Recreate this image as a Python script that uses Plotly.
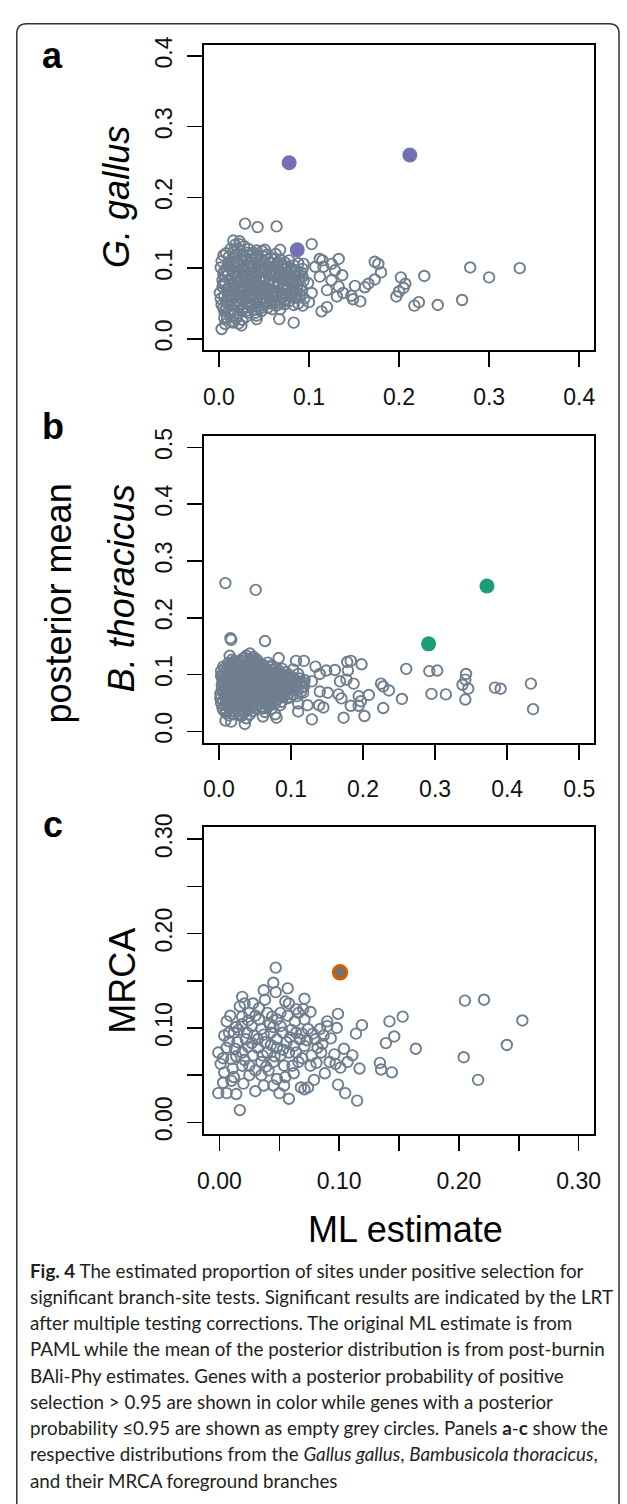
import plotly.graph_objects as go

W, H = 627, 1504

# ---------------- data ----------------
# Panel a: G. gallus  (x = ML estimate, y = posterior mean)
a_grey = [
    (0.002,0.101),(0.004,0.083),(0.001,0.065),(0.003,0.048),(0.005,0.092),(0.002,0.057),(0.004,0.074),(0.006,0.039),(0.003,0.110),
    (0.008,0.121),(0.009,0.096),(0.007,0.079),(0.010,0.061),(0.008,0.043),(0.009,0.030),(0.007,0.088),(0.010,0.105),(0.008,0.052),(0.009,0.070),
    (0.013,0.127),(0.014,0.112),(0.012,0.085),(0.015,0.067),(0.013,0.047),(0.012,0.035),(0.014,0.099),(0.013,0.076),(0.015,0.058),(0.014,0.025),
    (0.018,0.133),(0.019,0.118),(0.017,0.102),(0.020,0.090),(0.018,0.071),(0.019,0.054),(0.017,0.040),(0.020,0.063),(0.018,0.081),(0.019,0.029),(0.017,0.109),
    (0.023,0.138),(0.024,0.124),(0.022,0.097),(0.025,0.084),(0.023,0.066),(0.024,0.050),(0.022,0.036),(0.025,0.112),(0.023,0.075),(0.024,0.058),(0.022,0.022),
    (0.028,0.131),(0.029,0.115),(0.027,0.104),(0.030,0.088),(0.028,0.072),(0.029,0.060),(0.027,0.044),(0.030,0.031),(0.028,0.095),(0.029,0.080),(0.027,0.053),
    (0.033,0.127),(0.034,0.108),(0.032,0.092),(0.035,0.078),(0.033,0.062),(0.034,0.048),(0.032,0.037),(0.035,0.117),(0.033,0.069),(0.034,0.085),(0.032,0.100),
    (0.038,0.122),(0.039,0.101),(0.037,0.086),(0.040,0.070),(0.038,0.056),(0.039,0.041),(0.037,0.113),(0.040,0.093),(0.038,0.064),(0.039,0.079),
    (0.043,0.118),(0.044,0.106),(0.042,0.090),(0.045,0.075),(0.043,0.059),(0.044,0.046),(0.042,0.033),(0.045,0.083),(0.043,0.067),(0.044,0.098),
    (0.048,0.124),(0.049,0.110),(0.047,0.096),(0.050,0.081),(0.048,0.066),(0.049,0.052),(0.047,0.039),(0.050,0.088),(0.048,0.073),(0.049,0.059),
    (0.053,0.119),(0.054,0.103),(0.052,0.087),(0.055,0.071),(0.053,0.057),(0.054,0.044),(0.052,0.094),(0.055,0.079),(0.053,0.064),(0.054,0.112),
    (0.058,0.115),(0.059,0.099),(0.057,0.084),(0.060,0.068),(0.058,0.053),(0.059,0.042),(0.057,0.091),(0.060,0.076),(0.058,0.061),(0.059,0.107),
    (0.063,0.120),(0.064,0.105),(0.062,0.089),(0.065,0.074),(0.063,0.060),(0.064,0.047),(0.062,0.097),(0.065,0.082),(0.063,0.066),
    (0.068,0.112),(0.069,0.095),(0.067,0.080),(0.070,0.065),(0.068,0.051),(0.069,0.101),(0.067,0.087),(0.070,0.072),(0.068,0.058),
    (0.073,0.108),(0.074,0.092),(0.072,0.077),(0.075,0.062),(0.073,0.049),(0.074,0.099),(0.072,0.084),(0.075,0.069),(0.073,0.055),
    (0.078,0.111),(0.079,0.096),(0.077,0.081),(0.080,0.066),(0.078,0.053),(0.079,0.088),(0.077,0.073),(0.080,0.059),
    (0.083,0.104),(0.084,0.089),(0.082,0.074),(0.085,0.060),(0.083,0.048),(0.084,0.094),(0.082,0.079),(0.085,0.067),
    (0.088,0.107),(0.089,0.091),(0.087,0.076),(0.090,0.063),(0.088,0.050),(0.089,0.084),(0.087,0.070),
    (0.093,0.099),(0.094,0.082),(0.092,0.068),(0.095,0.057),(0.093,0.088),
    (0.005,0.118),(0.006,0.096),(0.005,0.078),(0.006,0.061),(0.005,0.044),(0.006,0.030),
    (0.011,0.116),(0.010,0.091),(0.011,0.073),(0.010,0.055),(0.011,0.040),(0.011,0.103),
    (0.016,0.123),(0.015,0.106),(0.016,0.094),(0.016,0.076),(0.015,0.061),(0.016,0.050),(0.016,0.033),
    (0.021,0.128),(0.021,0.107),(0.020,0.094),(0.021,0.079),(0.021,0.062),(0.021,0.045),(0.020,0.031),
    (0.026,0.119),(0.026,0.100),(0.026,0.091),(0.025,0.069),(0.026,0.056),(0.026,0.040),(0.026,0.027),
    (0.031,0.122),(0.031,0.111),(0.031,0.096),(0.030,0.083),(0.031,0.066),(0.031,0.051),(0.031,0.040),
    (0.036,0.120),(0.036,0.104),(0.036,0.089),(0.035,0.073),(0.036,0.059),(0.036,0.045),
    (0.041,0.115),(0.041,0.097),(0.041,0.082),(0.040,0.063),(0.041,0.051),(0.041,0.037),
    (0.046,0.113),(0.046,0.101),(0.046,0.086),(0.045,0.070),(0.046,0.055),(0.046,0.043),
    (0.051,0.116),(0.051,0.099),(0.051,0.084),(0.050,0.068),(0.051,0.049),
    (0.056,0.108),(0.056,0.095),(0.056,0.081),(0.055,0.064),(0.056,0.050),
    (0.061,0.112),(0.061,0.094),(0.061,0.079),(0.060,0.063),(0.061,0.052),
    (0.066,0.107),(0.066,0.091),(0.066,0.077),(0.065,0.061),
    (0.071,0.104),(0.071,0.089),(0.071,0.074),(0.070,0.058),
    (0.076,0.102),(0.076,0.085),(0.076,0.070),(0.075,0.056),
    (0.081,0.099),(0.081,0.083),(0.081,0.064),
    (0.086,0.097),(0.086,0.081),(0.086,0.058),
    (0.091,0.094),(0.091,0.074),
    (0.029,0.163),(0.043,0.158),(0.064,0.159),(0.103,0.134),(0.068,0.126),(0.133,0.113),(0.112,0.113),(0.115,0.111),
    (0.173,0.109),(0.177,0.106),(0.180,0.094),(0.279,0.101),(0.334,0.100),(0.300,0.087),(0.228,0.089),(0.202,0.087),
    (0.207,0.078),(0.205,0.072),(0.200,0.067),(0.197,0.060),(0.270,0.055),(0.243,0.048),(0.222,0.052),(0.217,0.047),
    (0.173,0.084),(0.166,0.078),(0.162,0.073),(0.151,0.075),(0.147,0.061),(0.157,0.053),(0.149,0.056),(0.137,0.090),
    (0.131,0.060),(0.120,0.045),(0.114,0.039),(0.100,0.052),(0.093,0.047),(0.083,0.023),(0.067,0.028),(0.068,0.042),
    (0.042,0.028),(0.025,0.019),(0.003,0.014),(0.007,0.021),(0.016,0.023),(0.129,0.097),(0.125,0.083),(0.120,0.069),
    (0.107,0.102),(0.094,0.106),(0.099,0.079),(0.103,0.065),(0.112,0.088),(0.116,0.102),(0.133,0.074),(0.138,0.065),
    (0.125,0.106),(0.016,0.139),(0.023,0.134),(0.042,0.125),(0.051,0.126),
]
a_sig = [(0.078,0.249),(0.212,0.260),(0.087,0.126)]

# Panel b: B. thoracicus
b_grey = [
    (0.003,0.098),(0.004,0.082),(0.002,0.066),(0.003,0.050),(0.005,0.090),(0.002,0.058),(0.004,0.074),(0.003,0.106),(0.005,0.041),
    (0.008,0.111),(0.009,0.094),(0.007,0.078),(0.010,0.061),(0.008,0.046),(0.009,0.086),(0.007,0.070),(0.010,0.053),(0.008,0.102),(0.009,0.035),
    (0.013,0.120),(0.014,0.104),(0.012,0.088),(0.015,0.072),(0.013,0.056),(0.014,0.042),(0.012,0.097),(0.015,0.080),(0.013,0.064),(0.014,0.028),
    (0.018,0.126),(0.019,0.110),(0.017,0.093),(0.020,0.077),(0.018,0.060),(0.019,0.048),(0.017,0.101),(0.020,0.085),(0.018,0.068),(0.019,0.036),(0.017,0.118),
    (0.023,0.115),(0.024,0.099),(0.022,0.083),(0.025,0.067),(0.023,0.052),(0.024,0.039),(0.022,0.107),(0.025,0.091),(0.023,0.075),(0.024,0.059),(0.022,0.124),
    (0.028,0.121),(0.029,0.105),(0.027,0.089),(0.030,0.073),(0.028,0.057),(0.029,0.044),(0.027,0.097),(0.030,0.081),(0.028,0.065),(0.029,0.031),(0.027,0.113),
    (0.033,0.128),(0.034,0.112),(0.032,0.096),(0.035,0.080),(0.033,0.064),(0.034,0.049),(0.032,0.104),(0.035,0.088),(0.033,0.072),(0.034,0.056),(0.032,0.038),
    (0.038,0.133),(0.039,0.117),(0.037,0.101),(0.040,0.085),(0.038,0.069),(0.039,0.054),(0.037,0.109),(0.040,0.093),(0.038,0.077),(0.039,0.061),(0.037,0.042),(0.038,0.023),
    (0.043,0.137),(0.044,0.122),(0.042,0.106),(0.045,0.090),(0.043,0.074),(0.044,0.058),(0.042,0.114),(0.045,0.098),(0.043,0.082),(0.044,0.066),(0.042,0.047),(0.043,0.030),
    (0.048,0.131),(0.049,0.115),(0.047,0.099),(0.050,0.083),(0.048,0.067),(0.049,0.051),(0.047,0.107),(0.050,0.091),(0.048,0.075),(0.049,0.059),(0.047,0.036),
    (0.053,0.126),(0.054,0.110),(0.052,0.094),(0.055,0.078),(0.053,0.062),(0.054,0.046),(0.052,0.102),(0.055,0.086),(0.053,0.070),(0.054,0.054),(0.052,0.120),
    (0.058,0.119),(0.059,0.103),(0.057,0.087),(0.060,0.071),(0.058,0.055),(0.059,0.041),(0.057,0.095),(0.060,0.079),(0.058,0.063),(0.059,0.112),
    (0.063,0.114),(0.064,0.098),(0.062,0.082),(0.065,0.066),(0.063,0.050),(0.064,0.106),(0.062,0.090),(0.065,0.074),(0.063,0.058),(0.064,0.034),
    (0.068,0.121),(0.069,0.105),(0.067,0.089),(0.070,0.073),(0.068,0.057),(0.069,0.097),(0.067,0.081),(0.070,0.065),(0.068,0.045),
    (0.073,0.116),(0.074,0.100),(0.072,0.084),(0.075,0.068),(0.073,0.052),(0.074,0.092),(0.072,0.076),(0.075,0.060),(0.073,0.040),
    (0.078,0.111),(0.079,0.095),(0.077,0.079),(0.080,0.063),(0.078,0.049),(0.079,0.103),(0.077,0.087),(0.080,0.071),(0.078,0.030),
    (0.083,0.107),(0.084,0.091),(0.082,0.075),(0.085,0.059),(0.083,0.099),(0.084,0.083),(0.082,0.067),(0.085,0.046),
    (0.088,0.110),(0.089,0.094),(0.087,0.078),(0.090,0.062),(0.088,0.086),(0.089,0.070),(0.087,0.052),
    (0.093,0.104),(0.094,0.088),(0.092,0.072),(0.095,0.058),(0.093,0.080),(0.094,0.096),
    (0.098,0.099),(0.099,0.083),(0.097,0.067),(0.100,0.091),(0.098,0.075),(0.099,0.060),
    (0.103,0.094),(0.104,0.078),(0.102,0.064),(0.105,0.086),(0.103,0.109),
    (0.108,0.089),(0.109,0.073),(0.107,0.081),(0.110,0.101),(0.108,0.062),
    (0.113,0.084),(0.114,0.070),(0.112,0.093),(0.115,0.077),
    (0.118,0.079),(0.119,0.090),(0.117,0.068),
    (0.006,0.114),(0.005,0.098),(0.006,0.086),(0.005,0.070),(0.006,0.054),(0.006,0.038),
    (0.011,0.108),(0.011,0.100),(0.010,0.083),(0.011,0.066),(0.011,0.050),(0.010,0.032),
    (0.016,0.115),(0.016,0.097),(0.015,0.089),(0.016,0.064),(0.016,0.052),(0.016,0.040),
    (0.021,0.121),(0.021,0.103),(0.020,0.087),(0.021,0.071),(0.021,0.055),(0.021,0.044),(0.021,0.030),
    (0.026,0.118),(0.026,0.101),(0.025,0.093),(0.026,0.077),(0.026,0.061),(0.026,0.048),(0.026,0.036),
    (0.031,0.124),(0.031,0.108),(0.031,0.092),(0.030,0.076),(0.031,0.060),(0.031,0.045),(0.031,0.027),
    (0.036,0.129),(0.036,0.113),(0.036,0.097),(0.035,0.081),(0.036,0.065),(0.036,0.050),(0.036,0.034),
    (0.041,0.126),(0.041,0.110),(0.041,0.094),(0.040,0.078),(0.041,0.062),(0.041,0.052),(0.041,0.038),
    (0.046,0.127),(0.046,0.111),(0.046,0.095),(0.045,0.079),(0.046,0.063),(0.046,0.043),
    (0.051,0.123),(0.051,0.106),(0.051,0.090),(0.050,0.074),(0.051,0.058),(0.051,0.041),
    (0.056,0.116),(0.056,0.099),(0.056,0.083),(0.055,0.067),(0.056,0.050),
    (0.061,0.117),(0.061,0.101),(0.061,0.086),(0.060,0.070),(0.061,0.054),(0.061,0.040),
    (0.066,0.110),(0.066,0.093),(0.066,0.077),(0.065,0.061),(0.066,0.049),
    (0.071,0.113),(0.071,0.096),(0.071,0.080),(0.070,0.064),(0.071,0.048),
    (0.076,0.107),(0.076,0.091),(0.076,0.074),(0.075,0.056),
    (0.081,0.103),(0.081,0.087),(0.081,0.071),(0.080,0.055),
    (0.086,0.101),(0.086,0.082),(0.086,0.066),
    (0.091,0.099),(0.091,0.083),(0.091,0.066),
    (0.096,0.092),(0.096,0.078),
    (0.009,0.261),(0.051,0.249),(0.017,0.161),(0.016,0.164),(0.064,0.159),(0.260,0.110),(0.292,0.106),(0.303,0.107),
    (0.295,0.066),(0.315,0.065),(0.343,0.101),(0.342,0.091),(0.338,0.082),(0.346,0.075),(0.342,0.056),(0.383,0.077),
    (0.391,0.075),(0.433,0.084),(0.436,0.039),(0.254,0.057),(0.228,0.041),(0.225,0.084),(0.228,0.079),(0.236,0.072),
    (0.208,0.064),(0.202,0.027),(0.173,0.024),(0.129,0.021),(0.198,0.118),(0.183,0.124),(0.178,0.122),(0.179,0.107),
    (0.177,0.091),(0.187,0.084),(0.194,0.062),(0.197,0.053),(0.194,0.045),(0.183,0.045),(0.170,0.058),(0.166,0.065),
    (0.168,0.088),(0.161,0.108),(0.149,0.107),(0.140,0.101),(0.134,0.114),(0.118,0.124),(0.107,0.124),(0.140,0.070),
    (0.151,0.068),(0.145,0.042),(0.139,0.046),(0.123,0.046),(0.110,0.035),(0.110,0.049),(0.080,0.024),(0.061,0.026),
    (0.036,0.013),(0.009,0.019),(0.017,0.017),(0.015,0.133),(0.083,0.129),(0.129,0.088),(0.118,0.085),
]
b_sig = [(0.372,0.256),(0.291,0.154)]

# Panel c: MRCA
c_grey = [
    (0.047,0.164),(0.045,0.148),(0.037,0.140),(0.047,0.138),(0.057,0.142),(0.055,0.128),(0.019,0.133),(0.021,0.126),
    (0.071,0.131),(0.070,0.120),(0.076,0.117),(0.099,0.115),(0.090,0.107),(0.098,0.100),(0.119,0.103),(0.114,0.094),
    (0.142,0.107),(0.153,0.112),(0.146,0.091),(0.139,0.084),(0.164,0.078),(0.134,0.063),(0.135,0.056),(0.144,0.053),
    (0.205,0.129),(0.221,0.130),(0.253,0.108),(0.240,0.082),(0.204,0.069),(0.216,0.045),(0.104,0.078),(0.111,0.071),
    (0.107,0.064),(0.117,0.057),(0.097,0.062),(0.092,0.064),(0.088,0.052),(0.099,0.040),(0.105,0.031),(0.115,0.023),
    (0.079,0.045),(0.074,0.037),(0.071,0.035),(0.068,0.037),(0.058,0.025),(0.050,0.031),(0.045,0.039),(0.037,0.039),
    (0.030,0.033),(0.017,0.013),(0.014,0.030),(0.006,0.031),(-0.001,0.031),(0.020,0.041),(0.010,0.044),(0.004,0.053),
    (-0.001,0.074),(0.001,0.062),(0.004,0.092),(0.006,0.107),(0.009,0.113),(0.090,0.102),(0.084,0.099),(0.080,0.088),
    (0.085,0.074),(0.077,0.071),(0.071,0.081),(0.064,0.095),(0.063,0.107),(0.071,0.109),(0.074,0.099),(0.061,0.060),
    (0.055,0.048),(0.054,0.039),(0.048,0.046),(0.041,0.055),(0.035,0.050),(0.025,0.050),(0.033,0.121),(0.025,0.116),
    (0.040,0.116),(0.048,0.109),(0.051,0.102),(0.043,0.095),(0.035,0.099),(0.027,0.102),(0.019,0.104),(0.012,0.095),
    (0.015,0.085),(0.022,0.088),(0.032,0.088),(0.038,0.085),(0.048,0.088),(0.056,0.085),(0.058,0.074),(0.051,0.071),
    (0.045,0.064),(0.035,0.064),(0.028,0.071),(0.019,0.074),(0.010,0.067),(0.006,0.079),(0.019,0.060),(0.025,0.060),
    (0.032,0.079),(0.040,0.074),(0.048,0.079),(0.064,0.074),(0.066,0.064),(0.054,0.060),(0.023,0.095),(0.033,0.109),
    (0.019,0.112),(0.017,0.123),(0.058,0.126),(0.066,0.116),(0.051,0.116),(0.038,0.130),(0.028,0.126),
    (0.008,0.086),(0.013,0.078),(0.003,0.068),(0.016,0.098),(0.029,0.092),(0.042,0.104),(0.060,0.098),(0.067,0.088),
    (0.078,0.094),(0.086,0.083),(0.081,0.063),(0.062,0.052),(0.043,0.082),(0.036,0.071),(0.027,0.084),(0.011,0.057),
    (0.014,0.101),(0.024,0.108),(0.030,0.113),(0.044,0.112),(0.053,0.095),(0.059,0.090),(0.069,0.094),(0.073,0.087),
    (0.082,0.079),(0.076,0.060),(0.069,0.068),(0.062,0.081),(0.053,0.077),(0.046,0.070),(0.039,0.059),(0.030,0.055),
    (0.021,0.066),(0.014,0.070),(0.008,0.095),(0.024,0.080),(0.037,0.093),(0.045,0.101),(0.057,0.113),(0.064,0.120),
    (0.087,0.092),(0.093,0.089),(0.096,0.072),(0.101,0.058),(0.012,0.048),(0.003,0.042),
]
c_sig = [(0.1007,0.159)]

# axis ticks
a_ticks = [0.0, 0.1, 0.2, 0.3, 0.4]
a_ticktext = ["0.0", "0.1", "0.2", "0.3", "0.4"]
b_ticks = [0.0, 0.1, 0.2, 0.3, 0.4, 0.5]
b_ticktext = ["0.0", "0.1", "0.2", "0.3", "0.4", "0.5"]
c_ticks = [0.0, 0.05, 0.10, 0.15, 0.20, 0.25, 0.30]
c_ticktext = ["0.00", "", "0.10", "", "0.20", "", "0.30"]

caption_lines = [
    "<b>Fig. 4</b> The estimated proportion of sites under positive selection for",
    "significant branch-site tests. Significant results are indicated by the LRT",
    "after multiple testing corrections. The original ML estimate is from",
    "PAML while the mean of the posterior distribution is from post-burnin",
    "BAli-Phy estimates. Genes with a posterior probability of positive",
    "selection &gt; 0.95 are shown in color while genes with a posterior",
    "probability ≤0.95 are shown as empty grey circles. Panels <b>a</b>-<b>c</b> show the",
    "respective distributions from the <i>Gallus gallus</i>, <i>Bambusicola thoracicus</i>,",
    "and their MRCA foreground branches",
]

# ---------------- styling ----------------
GREY = "#6e7e8e"
SIG_COLORS = ["#7570B3", "#1B9E77", "#D95F02"]
AXFONT = "Liberation Sans, Arial, sans-serif"
CAPFONT = "Lato, Open Sans, sans-serif"


def px_x(p):
    return p / W


def px_y(p):
    return 1 - p / H


panels = [
    dict(grey=a_grey, sig=a_sig, rng=[-0.016, 0.416], ticks=a_ticks, tt=a_ticktext, top=31, bot=341),
    dict(grey=b_grey, sig=b_sig, rng=[-0.02, 0.52], ticks=b_ticks, tt=b_ticktext, top=428, bot=739),
    dict(grey=c_grey, sig=c_sig, rng=[-0.0125, 0.3125], ticks=c_ticks, tt=c_ticktext, top=825, bot=1136),
]

fig = go.Figure()
layout = dict(
    width=W, height=H, margin=dict(l=0, r=0, t=0, b=0),
    paper_bgcolor="white", plot_bgcolor="white", showlegend=False,
)

for i, p in enumerate(panels):
    n = i + 1
    xa = "x" if n == 1 else f"x{n}"
    ya = "y" if n == 1 else f"y{n}"
    fig.add_trace(go.Scatter(
        x=[q[0] for q in p["grey"]], y=[q[1] for q in p["grey"]],
        mode="markers", xaxis=xa, yaxis=ya, hoverinfo="skip",
        marker=dict(symbol="circle-open", size=10.5, color=GREY, line=dict(width=1.9, color=GREY)),
    ))
    if n < 3:
        fig.add_trace(go.Scatter(
            x=[q[0] for q in p["sig"]], y=[q[1] for q in p["sig"]],
            mode="markers", xaxis=xa, yaxis=ya,
            marker=dict(symbol="circle", size=15, color=SIG_COLORS[i], line=dict(width=0)),
        ))
    else:
        fig.add_trace(go.Scatter(
            x=[q[0] for q in p["sig"]], y=[q[1] for q in p["sig"]],
            mode="markers", xaxis=xa, yaxis=ya,
            marker=dict(symbol="circle", size=14, color="#7a6e66", line=dict(width=2.6, color=SIG_COLORS[i])),
        ))
    common = dict(
        range=p["rng"], tickmode="array", tickvals=p["ticks"], ticktext=p["tt"],
        showgrid=False, zeroline=False, showline=True, mirror=True,
        linecolor="black", linewidth=2, ticks="outside", ticklen=15, tickwidth=1.6,
        tickcolor="black", tickfont=dict(family=AXFONT, size=23, color="#111"),
        fixedrange=True,
    )
    xkey = "xaxis" if n == 1 else f"xaxis{n}"
    ykey = "yaxis" if n == 1 else f"yaxis{n}"
    layout[xkey] = dict(common, domain=[px_x(202), px_x(600)], anchor=ya, ticklabelstandoff=10)
    layout[ykey] = dict(common, domain=[px_y(p["bot"]), px_y(p["top"])], anchor=xa,
                        tickangle=-90, ticklabelstandoff=6)

fig.update_layout(**layout)

ann = []
# panel letters
for letter, yy in (("a", 42), ("b", 418), ("c", 822)):
    ann.append(dict(text=f"<b>{letter}</b>", x=px_x(47), y=px_y(yy), xref="paper", yref="paper",
                    showarrow=False, xanchor="center", yanchor="middle",
                    font=dict(family=AXFONT, size=36, color="black")))
# y titles
for txt, xx, yy in (("<i>G. gallus</i>", 112, 185), ("posterior mean", 53, 598),
                    ("<i>B. thoracicus</i>", 117, 582), ("MRCA", 118, 980)):
    ann.append(dict(text=txt, x=px_x(xx), y=px_y(yy), xref="paper", yref="paper",
                    showarrow=False, xanchor="center", yanchor="middle", textangle=-90,
                    font=dict(family=AXFONT, size=36, color="black")))
# x title
ann.append(dict(text="ML estimate", x=px_x(408), y=px_y(1233), xref="paper", yref="paper",
                showarrow=False, xanchor="center", yanchor="middle",
                font=dict(family=AXFONT, size=36, color="black")))
# caption
for k, line in enumerate(caption_lines):
    ann.append(dict(text=line, x=px_x(21), y=px_y(1274 + 26.6 * k), xref="paper", yref="paper",
                    showarrow=False, xanchor="left", yanchor="middle",
                    font=dict(family=CAPFONT, size=18.8, color="#231f20")))
fig.update_layout(annotations=ann)

# outer frame (rounded top corners, open at the bottom)
x0, x1 = px_x(10), px_x(626)
yt, yb = px_y(10), px_y(1520)
rx, ry = 10 / W, 10 / H
path = (f"M {x0},{yb} L {x0},{yt - ry} Q {x0},{yt} {x0 + rx},{yt} "
        f"L {x1 - rx},{yt} Q {x1},{yt} {x1},{yt - ry} L {x1},{yb}")
fig.add_shape(type="path", path=path, xref="paper", yref="paper",
              line=dict(color="#333333", width=1.5))

fig.write_html(
    "out.html",
    config={"displayModeBar": False, "staticPlot": True},
    post_script="document.body.style.margin='0px';document.documentElement.style.overflow='hidden';document.body.style.overflow='hidden';",
)
